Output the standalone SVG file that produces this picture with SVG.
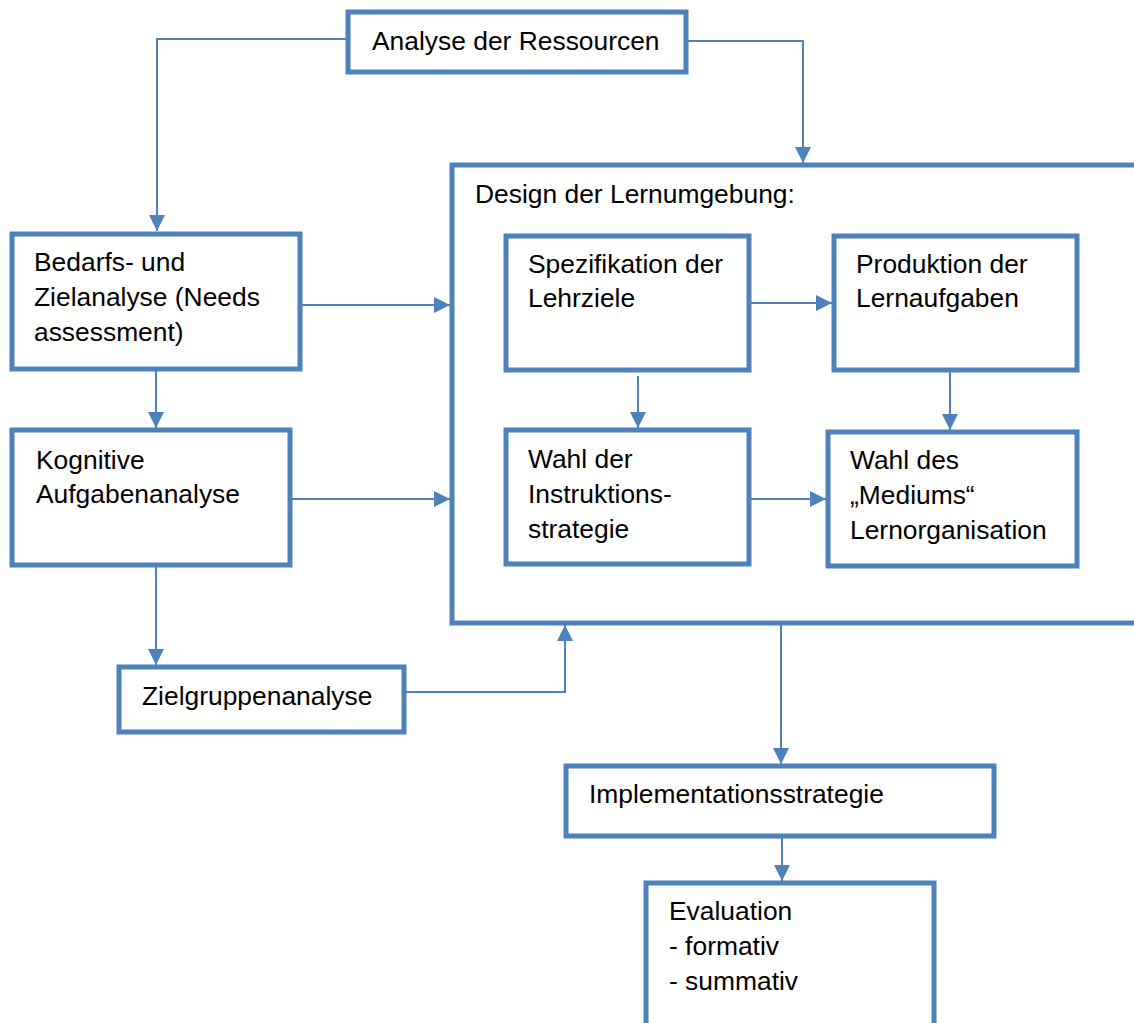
<svg xmlns="http://www.w3.org/2000/svg" width="1134" height="1023" viewBox="0 0 1134 1023">
<style>
.box{fill:#fff;stroke:#4F81BD;stroke-width:5}
.con{fill:none;stroke:#4F81BD;stroke-width:2}
text{font-family:"Liberation Sans",Arial,sans-serif;font-size:26.4px;fill:#000}
</style>
<defs>
<marker id="ah" markerUnits="userSpaceOnUse" markerWidth="16" markerHeight="16" refX="16" refY="8" orient="auto">
<path d="M0,0 L16,8 L0,16 z" fill="#4F81BD"/>
</marker>
</defs>
<rect width="1134" height="1023" fill="#fff"/>
<g id="analyse">
<rect class="box" x="348" y="12" width="338" height="60"/>
<text x="372" y="50">Analyse der Ressourcen</text>
</g>
<g id="design">
<rect class="box" x="452" y="165" width="720" height="458"/>
<text x="475" y="203">Design der Lernumgebung:</text>
</g>
<g id="bedarfs">
<rect class="box" x="12" y="234" width="288" height="135"/>
<text x="34" y="271">Bedarfs- und</text>
<text x="34" y="306">Zielanalyse (Needs</text>
<text x="34" y="341">assessment)</text>
</g>
<g id="kognitive">
<rect class="box" x="12" y="430" width="278" height="135"/>
<text x="36" y="469">Kognitive</text>
<text x="36" y="503">Aufgabenanalyse</text>
</g>
<g id="zielgruppen">
<rect class="box" x="119" y="667" width="285" height="65"/>
<text x="142" y="705">Zielgruppenanalyse</text>
</g>
<g id="spezifikation">
<rect class="box" x="506" y="236" width="243" height="134"/>
<text x="528" y="273">Spezifikation der</text>
<text x="528" y="307">Lehrziele</text>
</g>
<g id="produktion">
<rect class="box" x="834" y="236" width="243" height="134"/>
<text x="856" y="273">Produktion der</text>
<text x="856" y="307">Lernaufgaben</text>
</g>
<g id="wahl-instruktion">
<rect class="box" x="506" y="430" width="243" height="134"/>
<text x="528" y="468">Wahl der</text>
<text x="528" y="503">Instruktions-</text>
<text x="528" y="538">strategie</text>
</g>
<g id="wahl-medium">
<rect class="box" x="828" y="432" width="249" height="134"/>
<text x="850" y="469">Wahl des</text>
<text x="850" y="504">„Mediums“</text>
<text x="850" y="539">Lernorganisation</text>
</g>
<g id="implementation">
<rect class="box" x="566" y="766" width="428" height="70"/>
<text x="589" y="803">Implementationsstrategie</text>
</g>
<g id="evaluation">
<rect class="box" x="646" y="883" width="288" height="160"/>
<text x="669" y="920">Evaluation</text>
<text x="669" y="955">- formativ</text>
<text x="669" y="990">- summativ</text>
</g>
<g id="connectors">
<path class="con" d="M346,39 H157 V231" marker-end="url(#ah)"/>
<path class="con" d="M688,41 H803 V163" marker-end="url(#ah)"/>
<path class="con" d="M302,305 H450" marker-end="url(#ah)"/>
<path class="con" d="M156,371 V428" marker-end="url(#ah)"/>
<path class="con" d="M292,499 H450" marker-end="url(#ah)"/>
<path class="con" d="M156,567 V665" marker-end="url(#ah)"/>
<path class="con" d="M406,692 H565 V625" marker-end="url(#ah)"/>
<path class="con" d="M751,303 H832" marker-end="url(#ah)"/>
<path class="con" d="M638,376 V428" marker-end="url(#ah)"/>
<path class="con" d="M950,372 V430" marker-end="url(#ah)"/>
<path class="con" d="M751,499 H826" marker-end="url(#ah)"/>
<path class="con" d="M781,625 V764" marker-end="url(#ah)"/>
<path class="con" d="M782,838 V881" marker-end="url(#ah)"/>
</g>
</svg>
